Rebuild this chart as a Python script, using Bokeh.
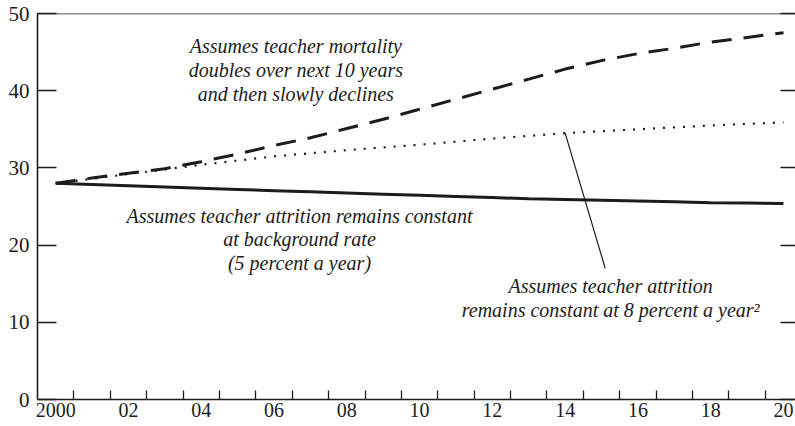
from bokeh.plotting import figure
from bokeh.models import (ColumnDataSource, FixedTicker, LinearAxis, Span, Range1d,
                          CustomJSTickFormatter)
from bokeh.core.properties import value
from bokeh.embed import file_html
from bokeh.resources import INLINE

# ---- data ----
years = list(range(2000, 2021))
constant_5pct = [28.0, 27.84, 27.68, 27.52, 27.36, 27.2, 27.05, 26.9, 26.75, 26.6, 26.45,
                 26.3, 26.15, 26.0, 25.9, 25.8, 25.7, 25.6, 25.5, 25.45, 25.4]
constant_8pct = [28.0, 28.6, 29.2, 29.8, 30.4, 30.95, 31.5, 31.9, 32.3, 32.65, 33.0,
                 33.4, 33.8, 34.15, 34.5, 34.75, 35.0, 35.25, 35.5, 35.7, 35.9]
mortality_doubles = [28.0, 28.7, 29.3, 29.9, 30.8, 31.8, 32.9, 33.9, 35.1, 36.3, 37.6,
                     38.9, 40.2, 41.5, 42.8, 43.9, 44.8, 45.5, 46.3, 46.9, 47.5]
y_ticks = [0, 10, 20, 30, 40, 50]
x_label_years = [2000, 2002, 2004, 2006, 2008, 2010, 2012, 2014, 2016, 2018, 2020]
x_label_text = ["2000", "02", "04", "06", "08", "10", "12", "14", "16", "18", "20"]
year_boundaries = [y + 0.5 for y in range(2000, 2020)]

notes = [
    "Assumes teacher mortality\ndoubles over next 10 years\nand then slowly declines",
    "Assumes teacher attrition remains constant\nat background rate\n(5 percent a year)",
    "Assumes teacher attrition\nremains constant at 8 percent a year\u00b2",
]
note_x = [2006.6, 2006.7, 2015.25]
note_y = [42.7, 20.75, 13.15]
leader_x0, leader_y0, leader_x1, leader_y1 = [2014.0], [34.5], [2015.1], [17.0]

FONT = "'Liberation Serif', 'Times New Roman', serif"
INK = "#1c1c1c"

p = figure(width=795, height=426, output_backend="svg", toolbar_location=None,
           x_range=Range1d(1999.5, 2020.33), y_range=Range1d(0, 50),
           min_border_left=37, min_border_right=0, min_border_top=13, min_border_bottom=27)
p.xgrid.visible = False
p.ygrid.visible = False
p.outline_line_color = None
p.background_fill_color = "white"
p.border_fill_color = "white"

# x axis
xa = p.xaxis[0]
xa.ticker = FixedTicker(ticks=x_label_years, minor_ticks=year_boundaries)
xa.major_label_overrides = {y: t for y, t in zip(x_label_years, x_label_text)}
xa.major_tick_line_color = None
xa.major_tick_in = 0
xa.major_tick_out = 0
xa.minor_tick_in = 9
xa.minor_tick_out = 0
xa.minor_tick_line_color = INK
xa.minor_tick_line_width = 1.3
xa.axis_line_color = INK
xa.axis_line_width = 1.6
xa.major_label_standoff = 3
xa.major_label_text_font = FONT
xa.major_label_text_font_size = "20px"
xa.major_label_text_color = INK

# y axis
ya = p.yaxis[0]
ya.ticker = FixedTicker(ticks=y_ticks)
ya.major_tick_in = 19
ya.major_tick_out = 0
ya.minor_tick_line_color = None
ya.major_tick_line_color = INK
ya.major_tick_line_width = 1.3
ya.axis_line_color = INK
ya.axis_line_width = 1.6
ya.major_label_standoff = 8
ya.major_label_text_font = FONT
ya.major_label_text_font_size = "21px"
ya.major_label_text_color = INK

ra = LinearAxis(ticker=FixedTicker(ticks=y_ticks),
                formatter=CustomJSTickFormatter(code="return ''"))
ra.axis_line_color = None
ra.major_tick_in = 15
ra.major_tick_out = 0
ra.major_tick_line_color = INK
ra.major_tick_line_width = 1.3
ra.minor_tick_line_color = None
ra.major_label_standoff = 0
p.add_layout(ra, "right")

p.add_layout(Span(location=50, dimension="width", line_color=INK, line_width=1.6))

src = ColumnDataSource(dict(x=years, c5=constant_5pct, c8=constant_8pct, md=mortality_doubles))
p.line("x", "md", source=src, line_color=INK, line_width=3, line_dash="20 12")
p.line("x", "c8", source=src, line_color=INK, line_width=2.2, line_dash="2 8")
p.line("x", "c5", source=src, line_color=INK, line_width=3)

p.segment(x0=leader_x0, y0=leader_y0, x1=leader_x1, y1=leader_y1, line_color=INK, line_width=1.2)

nsrc = ColumnDataSource(dict(x=note_x, y=note_y, t=notes))
p.text("x", "y", text="t", source=nsrc, text_font=value(FONT), text_font_style="italic",
       text_font_size="20px", text_align="center", text_baseline="middle",
       text_line_height=1.08, text_color=INK)

open("out.html", "w").write(file_html(p, INLINE))
